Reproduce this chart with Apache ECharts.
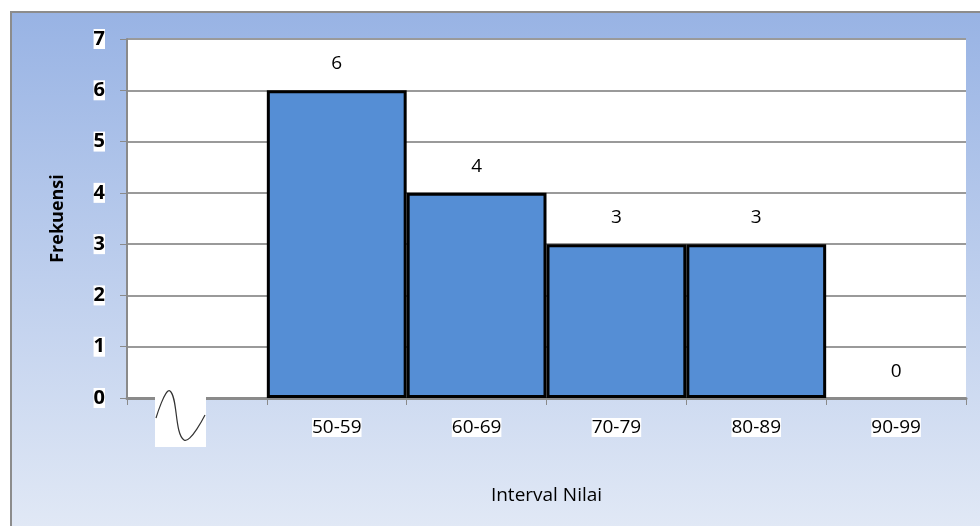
<!DOCTYPE html>
<html>
<head>
<meta charset="utf-8">
<script src="https://cdn.jsdelivr.net/npm/echarts@6/dist/echarts.min.js"></script>
<style>
  html, body { margin: 0; padding: 0; background: #fff; }
  #chart { width: 980px; height: 526px; }
</style>
</head>
<body>
<div id="chart"></div>
<script>
const categories = ["", "50-59", "60-69", "70-79", "80-89", "90-99"]
const frekuensi = ["-", 6, 4, 3, 3, 0]
const yMin = 0
const yMax = 7

const font = "'Open Sans', 'DejaVu Sans', sans-serif"

const chart = echarts.init(document.getElementById("chart"))

// an empty bar (value 0) should not draw its border over the axis
const barData = frekuensi.map(v =>
  v === 0 ? { value: v, itemStyle: { borderWidth: 0 } } : v
)

const option = {
  animation: false,
  backgroundColor: "#ffffff",
  textStyle: { fontFamily: font, color: "#000" },
  graphic: [
    {
      type: "rect",
      z: -10,
      silent: true,
      shape: { x: 11, y: 12, width: 980, height: 530 },
      style: {
        fill: {
          type: "linear", x: 0, y: 0, x2: 0, y2: 1,
          colorStops: [
            { offset: 0, color: "#98b3e4" },
            { offset: 1, color: "#e3eaf6" },
          ],
        },
        stroke: "#8c8c8c",
        lineWidth: 2,
      },
    },
    // axis break mark
    {
      type: "rect",
      z: 20,
      shape: { x: 155, y: 390, width: 51, height: 57 },
      style: { fill: "#fff" },
    },
    {
      type: "polyline",
      z: 21,
      shape: { points: [[156, 418], [170, 391], [184, 440], [205, 415]], smooth: 0.45 },
      style: { fill: "none", stroke: "#333", lineWidth: 1.2 },
    },
  ],
  grid: {
    left: 127,
    right: 14,
    top: 39,
    bottom: 128,
    show: true,
    backgroundColor: "#ffffff",
    borderWidth: 0,
  },
  xAxis: {
    type: "category",
    data: categories,
    boundaryGap: true,
    name: "Interval Nilai",
    nameLocation: "middle",
    nameGap: 88,
    nameTextStyle: { fontSize: 19, fontFamily: font, color: "#000" },
    axisLine: { lineStyle: { color: "#8a8a8a", width: 3 } },
    axisTick: { show: true, interval: 0, length: 7, lineStyle: { color: "#8a8a8a", width: 1 } },
    axisLabel: {
      interval: 0,
      margin: 20,
      fontSize: 19,
      fontFamily: font,
      color: "#000",
      backgroundColor: "#fff",
    },
    splitLine: { show: false },
  },
  yAxis: {
    type: "value",
    min: yMin,
    max: yMax,
    interval: 1,
    name: "Frekuensi",
    nameLocation: "middle",
    nameGap: 60,
    nameRotate: 90,
    nameTextStyle: { fontSize: 18, fontWeight: "bold", fontFamily: font, color: "#000" },
    axisLine: { show: true, lineStyle: { color: "#8a8a8a", width: 2 } },
    axisTick: { show: true, length: 7, lineStyle: { color: "#8a8a8a", width: 1 } },
    axisLabel: {
      margin: 22,
      fontSize: 20,
      fontWeight: "bold",
      fontFamily: font,
      color: "#000",
      backgroundColor: "#fff",
    },
    splitLine: { show: true, lineStyle: { color: "#9a9a9a", width: 2 } },
  },
  series: [
    {
      type: "bar",
      data: barData,
      barWidth: "100%",
      barCategoryGap: 0,
      itemStyle: { color: "#558ed5", borderColor: "#000", borderWidth: 3 },
      label: {
        show: true,
        position: "top",
        distance: 17,
        fontSize: 19,
        fontFamily: font,
        color: "#000",
      },
    },
  ],
}

chart.setOption(option)
window.addEventListener("resize", () => chart.resize())
</script>
</body>
</html>
